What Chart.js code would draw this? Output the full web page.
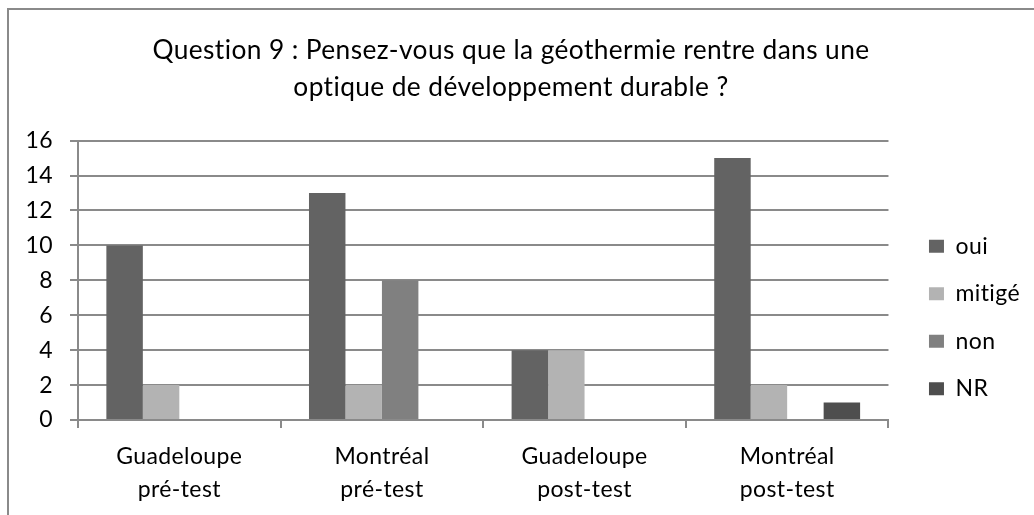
<!DOCTYPE html>
<html>
<head>
<meta charset="utf-8">
<script src="https://cdn.jsdelivr.net/npm/chart.js@4"></script>
<style>
  body { margin: 0; background: #fff; overflow: hidden; }
  #cadre { position: absolute; left: 7px; top: 8px; width: 1100px; height: 600px; border: 2px solid #8a8a8a; }
  #wrap { position: absolute; left: 0; top: 0; width: 1034px; height: 515px; }
</style>
</head>
<body>
<div id="cadre"></div>
<div id="wrap"><canvas id="graphique"></canvas></div>
<script>
// Réponses à la question 9, par groupe
const groupes = [
  ["Guadeloupe", "pré-test"],
  ["Montréal", "pré-test"],
  ["Guadeloupe", "post-test"],
  ["Montréal", "post-test"],
];
const oui = [10, 13, 4, 15];
const mitige = [2, 2, 4, 2];
const non = [0, 8, 0, 0];
const nr = [0, 0, 0, 1];
const graduations = [0, 2, 4, 6, 8, 10, 12, 14, 16];

const police = "Lato, 'DejaVu Sans', sans-serif";
const gris = "#8a8a8a";

// un léger espacement des lettres évite les ligatures de Lato (« ti »)
const espacement = {
  id: "espacement",
  beforeDraw: (chart) => { chart.ctx.letterSpacing = "0.4px"; },
};

// décale la légende vers la droite et vers le bas
const decalageLegende = {
  id: "decalageLegende",
  afterLayout: (chart) => {
    chart.legend.left += 16;
    chart.legend.right += 16;
    chart.legend.top += 60;
    chart.legend.bottom += 60;
  },
};

const ctx = document.getElementById("graphique").getContext("2d");
new Chart(ctx, {
  type: "bar",
  data: {
    labels: groupes,
    datasets: [
      { label: "oui", data: oui, backgroundColor: "#636363" },
      { label: "mitigé", data: mitige, backgroundColor: "#b3b3b3" },
      { label: "non", data: non, backgroundColor: "#808080" },
      { label: "NR", data: nr, backgroundColor: "#4e4e4e" },
    ],
  },
  plugins: [espacement, decalageLegende],
  options: {
    responsive: true,
    maintainAspectRatio: false,
    animation: false,
    datasets: {
      bar: { barPercentage: 1, categoryPercentage: 0.72 },
    },
    layout: { padding: { left: 10, right: 22, top: 0, bottom: 0 } },
    plugins: {
      title: {
        display: true,
        text: [
          "Question 9 : Pensez-vous que la géothermie rentre dans une",
          "optique de développement durable ?",
        ],
        color: "#000",
        font: { family: police, size: 26.3, weight: "normal", lineHeight: 1.4 },
        padding: { top: 32, bottom: 35 },
      },
      legend: {
        position: "right",
        align: "center",
        labels: {
          color: "#000",
          font: { family: police, size: 23 },
          boxWidth: 15,
          boxHeight: 13,
          padding: 24.5,
        },
      },
      tooltip: { enabled: false },
    },
    scales: {
      x: {
        grid: {
          offset: true,
          drawOnChartArea: false,
          drawTicks: true,
          tickLength: 8,
          color: gris,
          lineWidth: 2,
        },
        border: { display: true, color: gris, width: 2 },
        ticks: {
          color: "#000",
          font: { family: police, size: 23, lineHeight: 1.45 },
          padding: 12,
          maxRotation: 0,
        },
        afterFit: (scale) => { scale.height = 95; },
      },
      y: {
        min: 0,
        max: 16,
        afterBuildTicks: (scale) => {
          scale.ticks = graduations.map((v) => ({ value: v }));
        },
        grid: { color: gris, lineWidth: 2, tickLength: 8 },
        border: { display: true, color: gris, width: 2 },
        ticks: {
          color: "#000",
          font: { family: police, size: 23 },
          padding: 17,
        },
        afterFit: (scale) => { scale.width = 68; },
      },
    },
  },
});
</script>
</body>
</html>
